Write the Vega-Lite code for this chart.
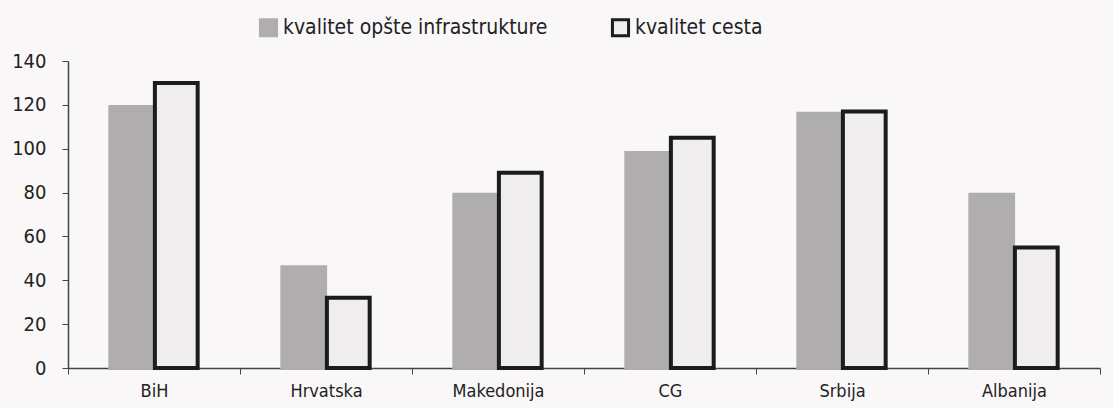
{
  "$schema": "https://vega.github.io/schema/vega-lite/v6.json",
  "width": 1032,
  "height": 307,
  "autosize": {"type": "none"},
  "padding": {"left": 68, "top": 61, "right": 13, "bottom": 40},
  "background": "#f9f7f7",
  "config": {
    "view": {"stroke": null},
    "font": "DejaVu Sans Condensed",
    "axis": {"labelFont": "DejaVu Sans Condensed", "labelColor": "#222", "domainColor": "#444", "tickColor": "#444"}
  },
  "data": {
    "values": [
      {"zemlja": "BiH", "serija": "kvalitet opšte infrastrukture", "vrijednost": 119},
      {"zemlja": "BiH", "serija": "kvalitet cesta", "vrijednost": 130},
      {"zemlja": "Hrvatska", "serija": "kvalitet opšte infrastrukture", "vrijednost": 46},
      {"zemlja": "Hrvatska", "serija": "kvalitet cesta", "vrijednost": 32},
      {"zemlja": "Makedonija", "serija": "kvalitet opšte infrastrukture", "vrijednost": 79},
      {"zemlja": "Makedonija", "serija": "kvalitet cesta", "vrijednost": 89},
      {"zemlja": "CG", "serija": "kvalitet opšte infrastrukture", "vrijednost": 98},
      {"zemlja": "CG", "serija": "kvalitet cesta", "vrijednost": 105},
      {"zemlja": "Srbija", "serija": "kvalitet opšte infrastrukture", "vrijednost": 116},
      {"zemlja": "Srbija", "serija": "kvalitet cesta", "vrijednost": 117},
      {"zemlja": "Albanija", "serija": "kvalitet opšte infrastrukture", "vrijednost": 79},
      {"zemlja": "Albanija", "serija": "kvalitet cesta", "vrijednost": 55}
    ]
  },
  "mark": {"type": "bar", "strokeWidth": 4},
  "encoding": {
    "x": {
      "field": "zemlja", "type": "nominal", "sort": null, "title": null,
      "scale": {"paddingInner": 0, "paddingOuter": 0},
      "axis": {"labelAngle": 0, "labelFontSize": 18, "labelPadding": 8, "tickBand": "extent", "tickSize": 6, "domainWidth": 1.5, "labelBaseline": "top"}
    },
    "xOffset": {
      "field": "serija", "type": "nominal", "sort": ["kvalitet opšte infrastrukture", "kvalitet cesta"],
      "scale": {"paddingInner": 0.04, "paddingOuter": 0.95}
    },
    "y": {
      "field": "vrijednost", "type": "quantitative", "title": null,
      "scale": {"domain": [0, 140]},
      "axis": {"values": [0, 20, 40, 60, 80, 100, 120, 140], "labelFontSize": 20, "tickSize": 6, "labelPadding": 16, "grid": false, "domainWidth": 1.5}
    },
    "fill": {
      "field": "serija", "type": "nominal", "sort": ["kvalitet opšte infrastrukture", "kvalitet cesta"],
      "scale": {"domain": ["kvalitet opšte infrastrukture", "kvalitet cesta"], "range": ["#afadae", "#efedee"]},
      "legend": {"title": null, "orient": "none", "legendX": 190, "legendY": -44, "direction": "horizontal", "symbolType": "square", "symbolSize": 260, "labelFontSize": 21, "labelFont": "DejaVu Sans Condensed", "labelColor": "#222", "labelLimit": 0, "columnPadding": 58, "symbolStrokeWidth": 3, "labelOffset": 4}
    },
    "stroke": {
      "field": "serija", "type": "nominal", "sort": ["kvalitet opšte infrastrukture", "kvalitet cesta"],
      "scale": {"domain": ["kvalitet opšte infrastrukture", "kvalitet cesta"], "range": ["#afadae", "#1c1c1c"]},
      "legend": {"title": null, "orient": "none", "legendX": 190, "legendY": -44, "direction": "horizontal", "symbolType": "square", "symbolSize": 260, "labelFontSize": 21, "labelFont": "DejaVu Sans Condensed", "labelColor": "#222", "labelLimit": 0, "columnPadding": 58, "symbolStrokeWidth": 3, "labelOffset": 4}
    }
  }
}
